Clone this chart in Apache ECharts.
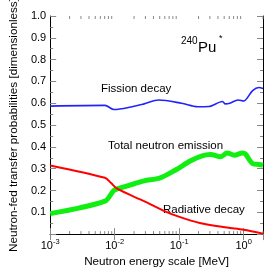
<!DOCTYPE html>
<html><head><meta charset="utf-8">
<script src="https://cdn.jsdelivr.net/npm/echarts@6/dist/echarts.min.js"></script>
<style>html,body{margin:0;padding:0;background:#fff}#c{width:268px;height:273px}</style>
</head><body><div id="c"></div>
<script>
// Energies in MeV, values in [0,1]
const fissionE = [0.001, 0.00706, 0.0098, 0.0187, 0.0286, 0.0482, 0.109, 0.195, 0.289, 0.471, 0.52, 0.611, 0.82, 1.0, 1.38, 1.73, 2.0];
const fissionV = [0.587, 0.590, 0.571, 0.584, 0.597, 0.615, 0.600, 0.584, 0.585, 0.608, 0.597, 0.600, 0.615, 0.610, 0.658, 0.672, 0.668];
const radiativeE = [0.001, 0.00706, 0.0088, 0.0109, 0.0286, 0.0568, 0.0986, 0.209, 0.555, 1.0, 2.0];
const radiativeV = [0.315, 0.258, 0.234, 0.208, 0.151, 0.108, 0.080, 0.051, 0.030, 0.020, 0.002];
const neutronE = [0.001, 0.00706, 0.0098, 0.01355, 0.0207, 0.0286, 0.0509, 0.0867, 0.151, 0.221, 0.306, 0.442, 0.555, 0.72, 0.955, 1.06, 1.40, 1.74, 2.0];
const neutronV = [0.094, 0.151, 0.201, 0.215, 0.232, 0.244, 0.258, 0.293, 0.336, 0.358, 0.365, 0.355, 0.372, 0.362, 0.372, 0.368, 0.322, 0.319, 0.315];
const yTicks = [0.1, 0.2, 0.3, 0.4, 0.5, 0.6, 0.7, 0.8, 0.9, 1.0];
const xMin = 0.001, xMax = 2;
const xMinorTicks = [];
for (let d = -3; d <= 0; d++) for (let k = 2; k <= 9; k++) { const v = k * Math.pow(10, d); if (v <= xMax) xMinorTicks.push(v); }

const pair = (a, b) => a.map((x, i) => [x, b[i]]);
const FONT = 'Liberation Sans, Arial, sans-serif';
const tickCol = '#888';
const chart = echarts.init(document.getElementById('c'), null, {renderer: 'canvas'});
const xLabel = v => {
  const e = Math.round(Math.log10(v));
  if (Math.abs(Math.log10(v) - e) > 1e-6) return '';
  return '{b|10}{e|' + e + '}';
};
chart.setOption({
  animation: false,
  grid: {left: 30, right: 5, top: 10, bottom: 29, containLabel: false},
  xAxis: [{
    type: 'log', logBase: 10, min: xMin, max: xMax, position: 'bottom',
    name: 'Neutron energy scale [MeV]', nameLocation: 'middle', nameGap: 16,
    nameTextStyle: {fontFamily: FONT, fontSize: 11.7, color: '#000'},
    axisLine: {show: true, lineStyle: {color: '#000', width: 1}},
    axisTick: {show: true, inside: true, length: 6, lineStyle: {color: tickCol}},
    axisLabel: {formatter: xLabel, margin: 4, showMaxLabel: false,
      rich: {b: {fontFamily: FONT, fontSize: 11, color: '#000', lineHeight: 13, verticalAlign: 'bottom'},
             e: {fontFamily: FONT, fontSize: 7.5, color: '#000', lineHeight: 13, verticalAlign: 'top'}}},
    splitLine: {show: false}
  }, {
    type: 'log', logBase: 10, min: xMin, max: xMax, position: 'top',
    axisLine: {show: true, lineStyle: {color: '#000', width: 1}},
    axisTick: {show: true, inside: true, length: 6, lineStyle: {color: tickCol}},
    axisLabel: {show: false}, splitLine: {show: false}
  }],
  yAxis: [{
    type: 'value', min: 0, max: 1, interval: 0.1, position: 'left',
    name: 'Neutron-fed transfer probabilities [dimensionless]', nameLocation: 'middle', nameGap: 19,
    nameTextStyle: {fontFamily: FONT, fontSize: 11.7, color: '#000'},
    axisLine: {show: true, lineStyle: {color: '#000', width: 1}},
    axisTick: {show: true, inside: true, length: 6, lineStyle: {color: tickCol}},
    minorTick: {show: true, splitNumber: 2, length: 3, lineStyle: {color: tickCol}},
    axisLabel: {margin: 4, fontFamily: FONT, fontSize: 11, color: '#000',
      formatter: v => (v < 0.05 ? '' : v.toFixed(1))},
    splitLine: {show: false}
  }, {
    type: 'value', min: 0, max: 1, interval: 0.1, position: 'right',
    axisLine: {show: true, lineStyle: {color: '#000', width: 1}},
    axisTick: {show: true, inside: true, length: 6, lineStyle: {color: tickCol}},
    minorTick: {show: true, splitNumber: 2, length: 3, lineStyle: {color: tickCol}},
    axisLabel: {show: false}, splitLine: {show: false}
  }],
  series: [
    {type: 'custom', xAxisIndex: 0, yAxisIndex: 0, silent: true, z: 1,
     data: xMinorTicks.map(v => [v, 0]),
     renderItem: (params, api) => {
       const b = api.coord([api.value(0), 0]);
       const t = api.coord([api.value(0), 1]);
       const st = {stroke: tickCol, lineWidth: 1};
       return {type: 'group', children: [
         {type: 'line', shape: {x1: b[0], y1: b[1], x2: b[0], y2: b[1] - 3}, style: st},
         {type: 'line', shape: {x1: t[0], y1: t[1], x2: t[0], y2: t[1] + 3}, style: st}
       ]};
     }},
    {type: 'line', name: 'Fission decay', data: pair(fissionE, fissionV), showSymbol: false, smooth: 0.3,
     lineStyle: {color: '#2222ff', width: 1.6}, z: 3},
    {type: 'line', name: 'Radiative decay', data: pair(radiativeE, radiativeV), showSymbol: false, smooth: 0.3,
     lineStyle: {color: '#ff0000', width: 2}, z: 3},
    {type: 'line', name: 'Total neutron emission', data: pair(neutronE, neutronV), showSymbol: false, smooth: 0.3,
     lineStyle: {color: '#11ee11', width: 5}, z: 2}
  ],
  graphic: [
    {type: 'text', left: 101, top: 83, style: {text: 'Fission decay', font: '11.5px ' + FONT, fill: '#000'}},
    {type: 'text', left: 108, top: 140, style: {text: 'Total neutron emission', font: '11.5px ' + FONT, fill: '#000'}},
    {type: 'text', left: 163, top: 204, style: {text: 'Radiative decay', font: '11.5px ' + FONT, fill: '#000'}},
    {type: 'text', left: 181, top: 36, style: {text: '240', font: '10px ' + FONT, fill: '#000'}},
    {type: 'text', left: 198, top: 40, style: {text: 'Pu', font: '15px ' + FONT, fill: '#000'}},
    {type: 'text', left: 219, top: 34, style: {text: '*', font: '9px ' + FONT, fill: '#000'}}
  ]
});
</script></body></html>
